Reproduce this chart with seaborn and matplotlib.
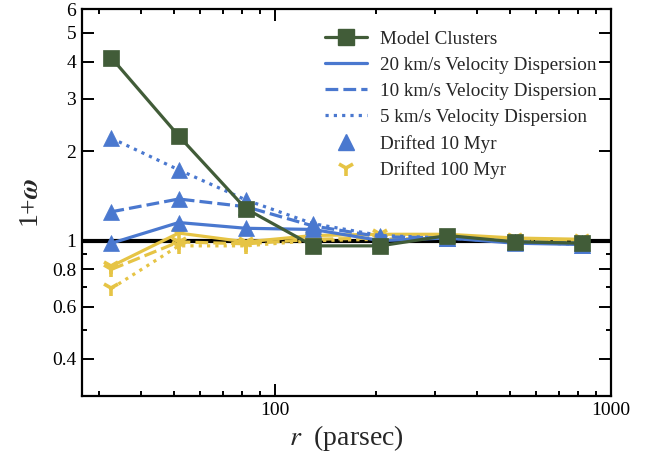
import numpy as np
import pandas as pd
import matplotlib
matplotlib.use("Agg")
import matplotlib.pyplot as plt
from matplotlib.lines import Line2D
from matplotlib.ticker import FixedLocator, NullFormatter, FixedFormatter
import seaborn as sns

# ---- data ----
r_pc = [32.6, 51.7, 81.9, 129.8, 205.7, 326.0, 516.7, 819.0]
model_clusters = [4.12, 2.25, 1.28, 0.96, 0.96, 1.04, 0.99, 0.98]
drift10_v20 = [0.98, 1.15, 1.10, 1.09, 1.00, 1.02, 0.98, 0.97]
drift10_v10 = [1.25, 1.38, 1.30, 1.12, 1.03, 1.02, 0.99, 0.98]
drift10_v5 = [2.21, 1.73, 1.37, 1.14, 1.04, 1.02, 0.99, 0.97]
drift100_v20 = [0.82, 1.06, 0.99, 1.04, 1.05, 1.05, 1.02, 1.01]
drift100_v10 = [0.80, 0.99, 0.975, 1.01, 1.02, 1.03, 1.01, 1.00]
drift100_v5 = [0.69, 0.96, 0.96, 1.00, 1.01, 1.02, 1.00, 0.99]
legend_labels = ["Model Clusters", "20 km/s Velocity Dispersion",
                 "10 km/s Velocity Dispersion", "5 km/s Velocity Dispersion",
                 "Drifted 10 Myr", "Drifted 100 Myr"]
yticks_major = [0.4, 0.6, 0.8, 1, 2, 3, 4, 5, 6]
ytick_labels = ["0.4", "0.6", "0.8", "1", "2", "3", "4", "5", "6"]
yticks_minor = [0.5, 0.7, 0.9]

sns.set_theme(style="ticks")
plt.rcParams['font.family'] = ['Liberation Serif', 'DejaVu Serif']
plt.rcParams['mathtext.fontset'] = 'stix'

GREEN = "#415C38"
BLUE = "#4A78CF"
YELLOW = "#E6C445"

fig = plt.figure(figsize=(6.49, 4.58), dpi=100)
ax = fig.add_axes([0.1259, 0.1354, 0.8156, 0.8443])

ax.axhline(1.0, color="black", lw=3.0, zorder=1)

styles = {"20": "-", "10": (0, (4, 1.6)), "5": (0, (1, 1.6))}

def draw(vals, color, ls, marker, ms, mew=1.0, z=2):
    sns.lineplot(x=r_pc, y=vals, ax=ax, color=color, linestyle=ls, lw=2.3,
                 marker=marker, markersize=ms, markeredgewidth=mew,
                 markerfacecolor=color, markeredgecolor=color,
                 zorder=z, legend=False, estimator=None)

# drifted 100 Myr (yellow)
for vals, key in [(drift100_v5, "5"), (drift100_v10, "10"), (drift100_v20, "20")]:
    draw(vals, YELLOW, styles[key], "1", 12, mew=2.6, z=3)
# drifted 10 Myr (blue)
for vals, key in [(drift10_v5, "5"), (drift10_v10, "10"), (drift10_v20, "20")]:
    draw(vals, BLUE, styles[key], "^", 11.5, mew=0.5, z=4)
# model clusters
draw(model_clusters, GREEN, "-", "s", 11.5, mew=0.5, z=5)

ax.set_xscale("log")
ax.set_yscale("log")
ax.set_xlim(26.6, 1000)
ax.set_ylim(0.3, 6)

ax.yaxis.set_major_locator(FixedLocator(yticks_major))
ax.yaxis.set_major_formatter(FixedFormatter(ytick_labels))
ax.yaxis.set_minor_locator(FixedLocator(yticks_minor))
ax.yaxis.set_minor_formatter(NullFormatter())
ax.xaxis.set_major_formatter(matplotlib.ticker.FuncFormatter(lambda v, p: f"{int(round(v))}"))

ax.tick_params(which="both", direction="in", top=True, right=True,
               labelsize=14, width=1.4, colors="black")
ax.tick_params(which="major", length=8.6, pad=4)
ax.tick_params(which="minor", length=3.6)
for s in ax.spines.values():
    s.set_linewidth(1.6)
    s.set_color("black")

ax.set_xlabel(r"$r$  (parsec)", fontsize=20, labelpad=3)
ax.set_ylabel(r"1+$\boldsymbol{\omega}$", fontsize=20, labelpad=6)

handles = [
    Line2D([], [], color=GREEN, lw=2.3, marker="s", markersize=12),
    Line2D([], [], color=BLUE, lw=2.3, ls="-"),
    Line2D([], [], color=BLUE, lw=2.3, ls=styles["10"]),
    Line2D([], [], color=BLUE, lw=2.3, ls=styles["5"]),
    Line2D([], [], color=BLUE, lw=0, marker="^", markersize=12),
    Line2D([], [], color=YELLOW, lw=0, marker="1", markersize=12, markeredgewidth=2.6),
]
ax.legend(handles, legend_labels, loc="upper right", frameon=False, fontsize=13.8,
          handlelength=2.2, handletextpad=0.7, bbox_to_anchor=(0.995, 0.975),
          labelspacing=0.45, borderaxespad=0.2)

fig.savefig("out.png", dpi=100)
